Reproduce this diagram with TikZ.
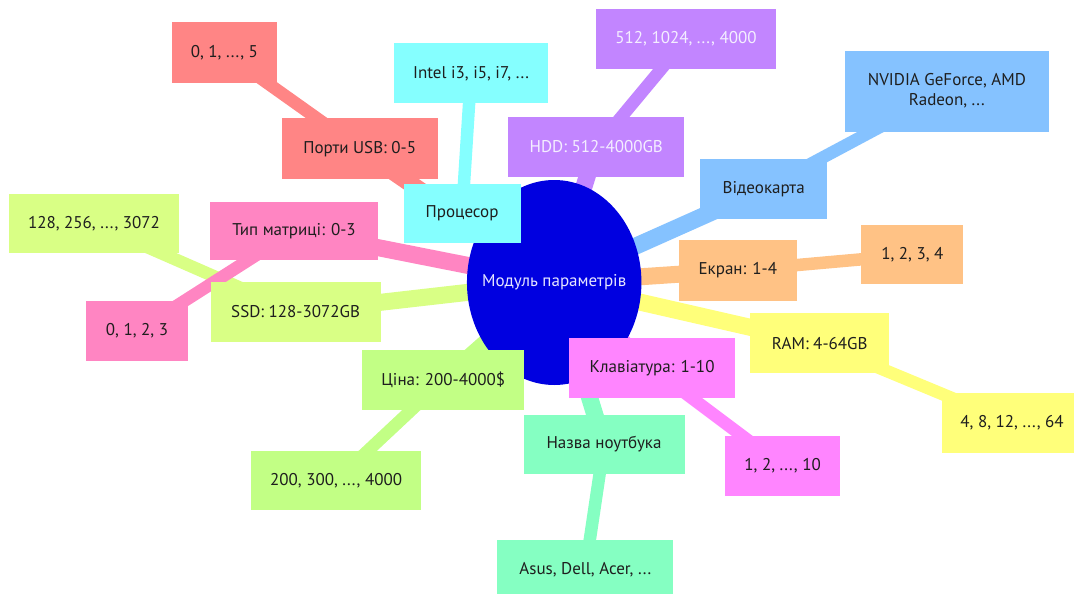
\documentclass[tikz,border=0pt]{standalone}
\usepackage{fontspec}
\setmainfont{PT Sans}
\usetikzlibrary{shapes.geometric,backgrounds}
\definecolor{rootblue}{HTML}{0000E0}
\definecolor{csalmon}{HTML}{FF8585}
\definecolor{ccyan}{HTML}{85FFFF}
\definecolor{cpurple}{HTML}{C285FF}
\definecolor{cblue}{HTML}{85C2FF}
\definecolor{cpeach}{HTML}{FFC285}
\definecolor{cyellow}{HTML}{FFFF7A}
\definecolor{cmagenta}{HTML}{FF85FF}
\definecolor{cmint}{HTML}{85FFC2}
\definecolor{cgreen}{HTML}{C2FF85}
\definecolor{clime}{HTML}{D9FF85}
\definecolor{cpink}{HTML}{FF85C2}
\definecolor{txt}{HTML}{1E1E1E}
\definecolor{lighttxt}{HTML}{F4EEFF}
\definecolor{roottxt}{HTML}{E6E6FF}
\tikzset{
  mmfont/.style={font=\fontsize{17}{20}\selectfont},
  mm/.style={rectangle, inner sep=0pt, text=txt, align=center, mmfont},
  rootedge/.style={line width=17pt},
  leafedge/.style={line width=12.5pt},
}
\newcommand{\mmbox}[6]{\node[mm, fill=#4, minimum width=#5pt, minimum height=#6pt] (#1) at (#2,#3)}
\begin{document}
\begin{tikzpicture}[x=1pt,y=-1pt]
\useasboundingbox (0,0) rectangle (1074,594);
% root
\node[ellipse, fill=rootblue, inner sep=0pt, minimum width=174.5pt, minimum height=205pt,
  label={[text=roottxt, mmfont]center:Модуль параметрів}] (root) at (554.2,282.5) {};
% children and leaves
\mmbox{usb}{359.7}{148.7}{csalmon}{156}{60.7} {Порти USB: 0-5};
\mmbox{usbv}{224.4}{52.5}{csalmon}{105.7}{60.4} {0, 1, ..., 5};
\mmbox{cpu}{462.1}{213.3}{ccyan}{117}{58.7} {Процесор};
\mmbox{intel}{471}{73.3}{ccyan}{154.7}{60} {Intel i3, i5, i7, ...};
\mmbox{hdd}{596.3}{147}{cpurple, text=lighttxt}{176}{59.4} {HDD: 512-4000GB};
\mmbox{hddv}{686}{39.2}{cpurple, text=lighttxt}{179.4}{60.3} {512, 1024, ..., 4000};
\mmbox{gpu}{763.7}{189}{cblue}{126.7}{60} {Відеокарта};
\mmbox{gpuv}{946.9}{91.2}{cblue}{203.8}{81} {NVIDIA GeForce, AMD\\Radeon, ...};
\mmbox{screen}{737.8}{270.3}{cpeach}{118.4}{60.7} {Екран: 1-4};
\mmbox{screenv}{912.4}{254.8}{cpeach}{101.9}{59} {1, 2, 3, 4};
\mmbox{ram}{819.7}{343.2}{cyellow}{138.7}{59.7} {RAM: 4-64GB};
\mmbox{ramv}{1012}{423}{cyellow}{140.6}{60} {4, 8, 12, ..., 64};
\mmbox{kbd}{652.1}{368.3}{cmagenta}{166}{60} {Клавіатура: 1-10};
\mmbox{kbdv}{782.6}{466.2}{cmagenta}{114.3}{60.3} {1, 2, ..., 10};
\mmbox{name}{604}{444.5}{cmint}{161}{59} {Назва ноутбука};
\mmbox{namev}{585.3}{570}{cmint}{176}{60} {Asus, Dell, Acer, ...};
\mmbox{price}{443.2}{380.2}{cgreen}{162.5}{59.7} {Ціна: 200-4000\$};
\mmbox{pricev}{336.1}{480.5}{cgreen}{169.4}{59} {200, 300, ..., 4000};
\mmbox{ssd}{295.6}{312}{clime}{169.8}{60.6} {SSD: 128-3072GB};
\mmbox{ssdv}{94}{223.8}{clime}{170}{59} {128, 256, ..., 3072};
\mmbox{matrix}{294}{231}{cpink}{168.7}{58.6} {Тип матриці: 0-3};
\mmbox{matrixv}{137}{331.2}{cpink}{101.9}{60.3} {0, 1, 2, 3};
% connectors
\begin{scope}[on background layer]
\draw[rootedge, csalmon] (root.center) -- (usb.center);
\draw[leafedge, csalmon] (usb.center) -- (usbv.center);
\draw[rootedge, ccyan] (root.center) -- (cpu.center);
\draw[leafedge, ccyan] (cpu.center) -- (intel.center);
\draw[rootedge, cpurple] (root.center) -- (hdd.center);
\draw[leafedge, cpurple] (hdd.center) -- (hddv.center);
\draw[rootedge, cblue] (root.center) -- (gpu.center);
\draw[leafedge, cblue] (gpu.center) -- (gpuv.center);
\draw[rootedge, cpeach] (root.center) -- (screen.center);
\draw[leafedge, cpeach] (screen.center) -- (screenv.center);
\draw[rootedge, cyellow] (root.center) -- (ram.center);
\draw[leafedge, cyellow] (ram.center) -- (ramv.center);
\draw[rootedge, cmagenta] (root.center) -- (kbd.center);
\draw[leafedge, cmagenta] (kbd.center) -- (kbdv.center);
\draw[rootedge, cmint] (root.center) -- (name.center);
\draw[leafedge, cmint] (name.center) -- (namev.center);
\draw[rootedge, cgreen] (root.center) -- (price.center);
\draw[leafedge, cgreen] (price.center) -- (pricev.center);
\draw[rootedge, clime] (root.center) -- (ssd.center);
\draw[leafedge, clime] (ssd.center) -- (ssdv.center);
\draw[rootedge, cpink] (root.center) -- (matrix.center);
\draw[leafedge, cpink] (matrix.center) -- (matrixv.center);
\end{scope}
\end{tikzpicture}
\end{document}
